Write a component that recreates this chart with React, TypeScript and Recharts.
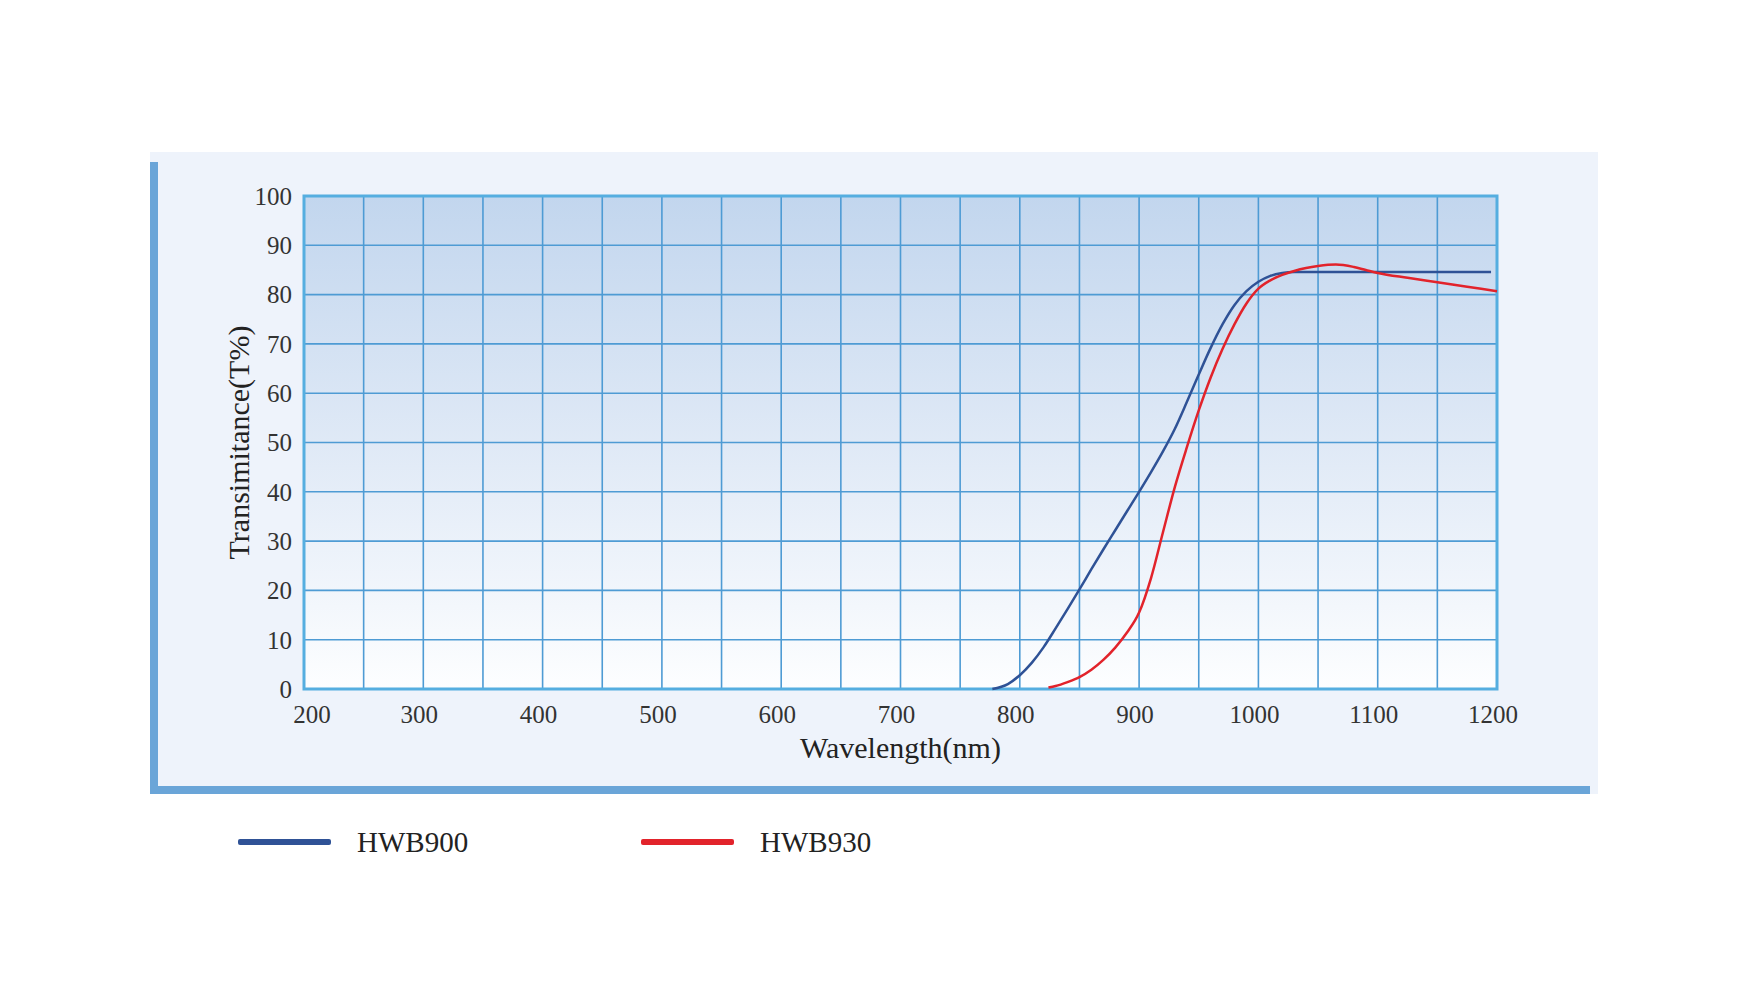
import React from "react";
import { LineChart, Line, XAxis, YAxis, CartesianGrid, ReferenceArea, Label } from "recharts";

// HWB900 transmittance curve (wavelength nm, T%)
const hwb900Wl = [777, 790, 800, 810, 820, 830, 840, 850, 860, 870, 880, 890, 900, 910, 920, 930, 940, 950, 960, 970, 980, 990, 1000, 1010, 1020, 1030, 1050, 1100, 1150, 1195];
const hwb900T  = [0, 1, 2.8, 5.3, 8.5, 12.3, 16.2, 20.2, 24.3, 28.3, 32.2, 36.1, 40, 44, 48.2, 52.8, 58.2, 63.8, 69.2, 74, 77.9, 80.7, 82.6, 83.8, 84.4, 84.6, 84.6, 84.6, 84.6, 84.6];

// HWB930 transmittance curve
const hwb930Wl = [824, 830, 840, 850, 860, 870, 880, 890, 900, 910, 920, 930, 940, 950, 960, 970, 980, 990, 1000, 1010, 1020, 1030, 1040, 1050, 1065, 1080, 1090, 1100, 1125, 1150, 1175, 1200];
const hwb930T  = [0.3, 0.6, 1.4, 2.4, 3.9, 5.9, 8.4, 11.5, 15.5, 22.5, 31.8, 41, 49, 56.5, 63.2, 69, 74, 78.2, 81.2, 82.9, 84, 84.8, 85.4, 85.8, 86.1, 85.6, 85, 84.4, 83.4, 82.5, 81.6, 80.7];

const xTicks = [200, 250, 300, 350, 400, 450, 500, 550, 600, 650, 700, 750, 800, 850, 900, 950, 1000, 1050, 1100, 1150, 1200];
const yTicks = [0, 10, 20, 30, 40, 50, 60, 70, 80, 90, 100];

const series = [
  { key: "HWB900", color: "#2f5296", wl: hwb900Wl, t: hwb900T },
  { key: "HWB930", color: "#e2232b", wl: hwb930Wl, t: hwb930T },
];

const serif = "'Liberation Serif', 'DejaVu Serif', serif";

// x labels only every 100 nm; first one nudged right off the "0"
const XTick = ({ x, y, payload }: any) => {
  const v = payload.value;
  if (v % 100 !== 0) return null;
  const dx = v === 200 ? 8 : -4;
  return (
    <text x={x + dx} y={y} dy="0.71em" textAnchor="middle" fontSize={25} fill="#333" fontFamily={serif}>{v}</text>
  );
};

export default function App() {
  return (
    <div style={{ position: "absolute", left: 0, top: 0, width: 1749, height: 1000, background: "white", fontFamily: serif }}>
      {/* panel */}
      <div style={{ position: "absolute", left: 150, top: 152, width: 1448, height: 642, background: "#eef3fb" }} />
      <div style={{ position: "absolute", left: 150, top: 162, width: 8, height: 632, background: "#6aa5d8" }} />
      <div style={{ position: "absolute", left: 150, top: 786, width: 1440, height: 8, background: "#6aa5d8" }} />

      <div style={{ position: "absolute", left: 0, top: 0 }}>
        <LineChart width={1749} height={1000} margin={{ top: 196, right: 252, bottom: 0, left: 224 }}>
          <defs>
            <linearGradient id="plotBg" x1="0" y1="0" x2="0" y2="1">
              <stop offset="0%" stopColor="#c2d6ee" />
              <stop offset="55%" stopColor="#e2ebf7" />
              <stop offset="100%" stopColor="#fdfeff" />
            </linearGradient>
          </defs>
          <CartesianGrid fill="url(#plotBg)" stroke="#4e9bd4" strokeWidth={1.6} />
          <XAxis type="number" dataKey="x" domain={[200, 1200]} ticks={xTicks} interval={0}
            axisLine={false} tickLine={false} height={311} tickMargin={10} tick={<XTick />}>
            <Label content={({ viewBox }: any) => (
              <text x={viewBox.x + viewBox.width / 2} y={747} textAnchor="middle" dominantBaseline="central"
                fontSize={30} fill="#222" fontFamily={serif}>Wavelength(nm)</text>
            )} />
          </XAxis>
          <YAxis type="number" domain={[0, 100]} ticks={yTicks} interval={0} width={80}
            axisLine={false} tickLine={false} tickMargin={6}
            tick={{ fontSize: 25, fill: "#333", fontFamily: serif }}>
            <Label content={({ viewBox }: any) => (
              <text x={238} y={viewBox.y + viewBox.height / 2} textAnchor="middle" dominantBaseline="central"
                transform={`rotate(-90, 238, ${viewBox.y + viewBox.height / 2})`}
                fontSize={30} fill="#222" fontFamily={serif}>Transimitance(T%)</text>
            )} />
          </YAxis>
          <ReferenceArea x1={200} x2={1200} y1={0} y2={100} fill="none" stroke="#55aee0" strokeWidth={3} />
          {series.map(s => (
            <Line key={s.key} data={s.wl.map((w, i) => ({ x: w, y: s.t[i] }))} dataKey="y" name={s.key}
              type="monotone" stroke={s.color} strokeWidth={2.5} dot={false} isAnimationActive={false} />
          ))}
        </LineChart>
      </div>

      {/* legend */}
      {series.map((s, i) => (
        <div key={s.key} style={{ position: "absolute", left: i === 0 ? 238 : 641, top: 822, display: "flex", alignItems: "center" }}>
          <span style={{ width: 93, height: 6, background: s.color, display: "inline-block", borderRadius: 2 }} />
          <span style={{ marginLeft: 26, fontSize: 29, color: "#222", lineHeight: "40px" }}>{s.key}</span>
        </div>
      ))}
    </div>
  );
}
